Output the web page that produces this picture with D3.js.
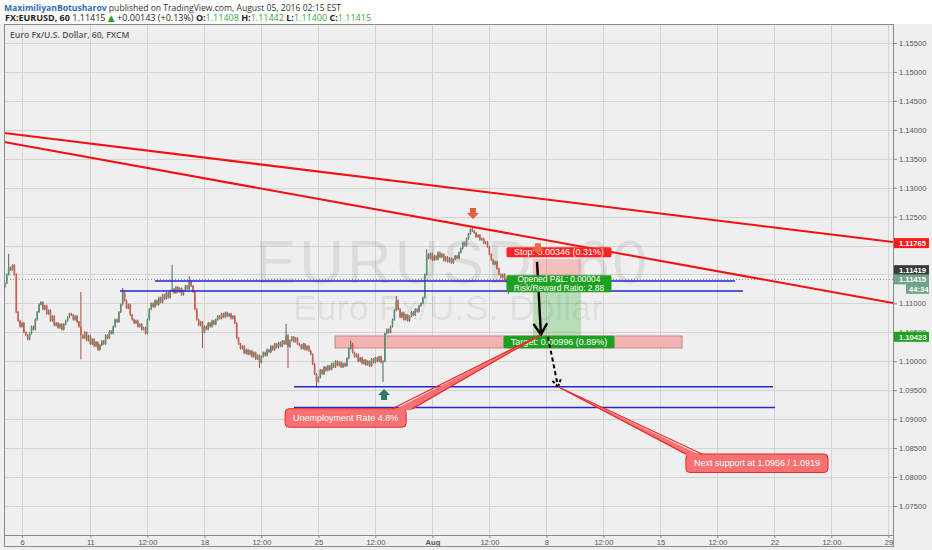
<!DOCTYPE html>
<html><head><meta charset="utf-8">
<script src="https://cdn.jsdelivr.net/npm/d3@7"></script>
<style>
html,body{margin:0;padding:0;background:#fff;}
svg{display:block;}
</style></head><body>
<svg id="c" width="932" height="550"></svg>
<script>
// ---------- data ----------
const priceTicks = [1.075,1.08,1.085,1.09,1.095,1.10,1.105,1.11,1.115,1.12,1.125,1.13,1.135,1.14,1.145,1.15,1.155];
const timeTickPos = [0,3,5.5,8,10.5,13,15.5,18,20.5,23,25.5,28,30.5,33,35.5,38]; // trading days from Jul 6
const timeTickLabels = ["6","11","12:00","18","12:00","25","12:00","Aug","12:00","8","12:00","15","12:00","22","12:00","29"];
const headerOHLC = [["O:","1.11408"],["H:","1.11442"],["L:","1.11400"],["C:","1.11415"]];
const firstOpen = 1.1128;
const candleStart = -0.75, candleStep = 1/12; // 2-hour bars
const closes = [
1.1135,1.1150,1.1162,1.1158,1.1166,1.1150,1.1085,1.1070,1.1060,1.1066,1.1050,1.1045,
1.1038,1.1048,1.1060,1.1055,1.1072,1.1085,1.1098,1.1102,1.1090,1.1096,1.1082,1.1088,
1.1070,1.1078,1.1062,1.1066,1.1058,1.1064,1.1055,1.1064,1.1070,1.1076,1.1082,1.1080,
1.1072,1.1078,1.1068,1.1060,1.1045,1.1040,1.1050,1.1036,1.1044,1.1030,1.1038,1.1026,
1.1033,1.1020,1.1028,1.1035,1.1030,1.1045,1.1040,1.1052,1.1048,1.1060,1.1072,1.1068,
1.1085,1.1098,1.1120,1.1105,1.1092,1.1098,1.1080,1.1072,1.1066,1.1070,1.1060,1.1064,
1.1055,1.1058,1.1048,1.1072,1.1090,1.1100,1.1094,1.1105,1.1098,1.1110,1.1102,1.1115,
1.1108,1.1118,1.1110,1.1122,1.1125,1.1118,1.1128,1.1120,1.1126,1.1115,1.1122,1.1130,
1.1125,1.1138,1.1130,1.1120,1.1090,1.1072,1.1062,1.1068,1.1050,1.1060,1.1055,1.1066,
1.1060,1.1070,1.1064,1.1072,1.1078,1.1074,1.1082,1.1076,1.1084,1.1078,1.1082,1.1074,
1.1078,1.1066,1.1040,1.1030,1.1022,1.1026,1.1014,1.1020,1.1012,1.1018,1.1008,1.1015,
1.1004,1.1010,1.0998,1.1008,1.1015,1.1010,1.1020,1.1016,1.1026,1.1020,1.1030,1.1024,
1.1032,1.1026,1.1035,1.1030,1.1045,1.1025,1.1036,1.1042,1.1034,1.1040,1.1030,1.1028,
1.1022,1.1030,1.1020,1.1026,1.1018,1.1012,1.0995,1.0978,1.0965,1.0972,1.0985,1.0978,
1.0990,1.0984,1.0992,1.0986,1.0996,1.0990,1.1000,1.0993,1.0998,1.0990,1.0996,1.0992,
1.1005,1.1022,1.1030,1.1015,1.1008,1.1012,1.1000,1.1006,1.0996,1.1002,1.0994,1.1000,
1.0992,1.1004,1.0998,1.1006,1.1000,1.1008,1.0998,1.1000,1.1048,1.1055,1.1050,1.1060,
1.1072,1.1088,1.1105,1.1090,1.1076,1.1084,1.1072,1.1080,1.1070,1.1078,1.1085,1.1080,
1.1090,1.1086,1.1096,1.1100,1.1110,1.1150,1.1185,1.1178,1.1186,1.1175,1.1182,1.1176,
1.1188,1.1180,1.1185,1.1174,1.1180,1.1172,1.1178,1.1170,1.1176,1.1182,1.1178,1.1188,
1.1195,1.1205,1.1200,1.1212,1.1220,1.1228,1.1225,1.1222,1.1215,1.1218,1.1210,1.1212,
1.1204,1.1206,1.1198,1.1185,1.1175,1.1168,1.1172,1.1160,1.1150,1.1145,1.1150,1.1142,
1.1138,1.1132,1.1138,1.11415
];
const wickHighs = [[2,1.1184],[40,1.1118],[62,1.1125],[88,1.1165],[97,1.1145],[148,1.1063],[182,1.1034],[206,1.1111],[222,1.1192],[246,1.1232]];
const wickLows = [[40,1.1005],[104,1.1025],[134,1.0990],[149,1.0990],[164,1.0956],[199,1.0966],[265,1.1118]];
const trendA = [[-0.789,1.13945],[38.202,1.12061]];
const trendB = [[-0.789,1.13789],[38.202,1.11007]];
const blueLevels = [[5.83,31.27,1.11387],[4.30,31.62,1.11215],[11.93,32.94,1.0956],[11.93,33.03,1.0920]];
const targetZone = [13.73,28.95,1.10437,1.10230];
const position = {d0:22.41,d1:24.52,entry:1.11419,stop:1.11765,target:1.10423};
const positionTexts = ["Stop: 0.00346 (0.31%)","Opened P&L: 0.00004","Risk/Reward Ratio: 2.88","Target: 0.00996 (0.89%)"];
const solidArrow = [[22.59,1.11717],[22.76,1.1046]];
const dashedArrow = [[23.07,1.1042],[23.51,1.0956]];
const downMarkers = [[19.78,1.1246],[22.63,1.1185]];
const upMarkers = [[15.88,1.0952]];
const callouts = [
  {text:"Unemployment Rate 4.8%", box:[11.54,1.0918], tip:[22.76,1.1046], base:[107,127]},
  {text:"Next support at 1.0956 / 1.0919", box:[29.12,1.08398], tip:[23.51,1.0956], base:[0,16]}
];
const lastPrice = 1.11415;
const axisLabels = [
  {price:1.11765, text:"1.11765", bg:"#ff1a1a", nudge:-16},
  {price:1.11419, text:"1.11419", bg:"#3a3a3a", nudge:-9},
  {price:1.11415, text:"1.11415", bg:"#6fa689", nudge:0},
  {price:1.10423, text:"1.10423", bg:"#1ea21e", nudge:0}
];
const countdown = "44:34";

// ---------- layout ----------
const W=932,H=550;
const plot={l:4,r:893,t:24,b:535};
const x=d3.scaleLinear().domain([-0.789,38.202]).range([plot.l,plot.r]);
const y=d3.scaleLinear().domain([1.06998,1.15828]).range([plot.b,plot.t]);
const SANS='"Liberation Sans",Arial,sans-serif';
const OPEN='"Open Sans","DejaVu Sans",sans-serif';
const svg=d3.select("#c");
svg.append("rect").attr("width",W).attr("height",H).attr("fill","#fff");
svg.append("rect").attr("x",0).attr("y",plot.t).attr("width",W).attr("height",H-plot.t).attr("fill","#efefef");

svg.append("defs").append("clipPath").attr("id","pc").append("rect")
  .attr("x",plot.l).attr("y",plot.t).attr("width",plot.r-plot.l).attr("height",plot.b-plot.t);

// header
const h1=svg.append("text").attr("x",4).attr("y",10.5).attr("font-family",OPEN).attr("font-size",8.6);
h1.append("tspan").attr("fill","#2f6cb3").attr("font-weight","bold").text("MaximiliyanBotusharov");
h1.append("tspan").attr("fill","#333").text(" published on TradingView.com, August 05, 2016 02:15 EST");
const h2=svg.append("text").attr("x",5).attr("y",20.5).attr("font-family",OPEN).attr("font-size",9).attr("fill","#222");
h2.append("tspan").attr("font-weight","bold").text("FX:EURUSD, 60");
h2.append("tspan").text(" 1.11415 ");
h2.append("tspan").attr("fill","#2ca02c").text("▲");
h2.append("tspan").text(" +0.00143 (+0.13%) ");
headerOHLC.forEach(([k,v],i)=>{
  h2.append("tspan").attr("font-weight","bold").text((i?" ":"")+k);
  h2.append("tspan").attr("fill","#3fa63f").text(v);
});

// grid
const grid=svg.append("g").attr("stroke","#d3d3d3").attr("stroke-width",1);
grid.selectAll("line.h").data(priceTicks).join("line").attr("class","h")
  .attr("x1",plot.l).attr("x2",plot.r).attr("y1",d=>Math.round(y(d))+0.5).attr("y2",d=>Math.round(y(d))+0.5);
grid.selectAll("line.v").data(timeTickPos).join("line").attr("class","v")
  .attr("y1",plot.t).attr("y2",plot.b).attr("x1",d=>Math.round(x(d))+0.5).attr("x2",d=>Math.round(x(d))+0.5);

const P=svg.append("g").attr("clip-path","url(#pc)");

// legend
P.append("text").attr("x",10).attr("y",37.5).attr("font-family",OPEN).attr("font-size",8.6)
  .attr("font-weight","600").attr("fill","#555").text("Euro Fx/U.S. Dollar, 60, FXCM");

// watermark
P.append("text").attr("x",255).attr("y",283).attr("font-family",SANS).attr("font-size",62)
  .attr("fill","rgba(0,0,0,0.08)").attr("textLength",392).attr("lengthAdjust","spacing").text("EURUSD, 60");
P.append("text").attr("x",293).attr("y",320).attr("font-family",SANS).attr("font-size",35)
  .attr("fill","rgba(0,0,0,0.08)").attr("textLength",310).attr("lengthAdjust","spacing").text("Euro Fx/U.S. Dollar");

// target zone rect
P.append("rect").attr("x",x(targetZone[0])).attr("width",x(targetZone[1])-x(targetZone[0]))
  .attr("y",y(targetZone[2])).attr("height",y(targetZone[3])-y(targetZone[2]))
  .attr("fill","#f3b3b3").attr("stroke","#c98585").attr("stroke-width",1);

// last price dotted line
P.append("line").attr("x1",plot.l).attr("x2",plot.r).attr("y1",y(lastPrice)).attr("y2",y(lastPrice))
  .attr("stroke","#888").attr("stroke-dasharray","1,2").attr("stroke-width",1);

// candles
const candles=closes.map((c,i)=>{
  const o=i===0?firstOpen:closes[i-1];
  return {d:candleStart+i*candleStep,o,c,h:Math.max(o,c),l:Math.min(o,c)};
});
wickHighs.forEach(([i,v])=>candles[i].h=Math.max(candles[i].h,v));
wickLows.forEach(([i,v])=>candles[i].l=Math.min(candles[i].l,v));
const cg=P.append("g");
cg.selectAll("line").data(candles).join("line")
  .attr("x1",d=>x(d.d)).attr("x2",d=>x(d.d)).attr("y1",d=>y(d.h)-1).attr("y2",d=>y(d.l)+1)
  .attr("stroke",d=>d.c>=d.o?"#355e48":"#9c3f35").attr("stroke-width",0.9);
cg.selectAll("rect").data(candles).join("rect")
  .attr("x",d=>x(d.d)-0.8).attr("width",1.6)
  .attr("y",d=>y(Math.max(d.o,d.c))).attr("height",d=>Math.max(0.8,Math.abs(y(d.o)-y(d.c))))
  .attr("fill",d=>d.c>=d.o?"#5a9074":"#d4584b");

// blue levels
P.selectAll("line.blue").data(blueLevels).join("line").attr("class","blue")
  .attr("x1",d=>x(d[0])).attr("x2",d=>x(d[1])).attr("y1",d=>y(d[2])).attr("y2",d=>y(d[2]))
  .attr("stroke","#2424d6").attr("stroke-width",1.4);

// trend lines
P.selectAll("line.trend").data([trendA,trendB]).join("line").attr("class","trend")
  .attr("x1",d=>x(d[0][0])).attr("y1",d=>y(d[0][1])).attr("x2",d=>x(d[1][0])).attr("y2",d=>y(d[1][1]))
  .attr("stroke","#f41010").attr("stroke-width",2);

// position tool zones
const px0=x(position.d0), px1=x(position.d1), pcx=(px0+px1)/2+2;
P.append("rect").attr("x",px0).attr("width",px1-px0).attr("y",y(position.stop)).attr("height",y(position.entry)-y(position.stop))
  .attr("fill","rgba(255,40,40,0.24)");
P.append("rect").attr("x",px0).attr("width",px1-px0).attr("y",y(position.entry)).attr("height",y(position.target)-y(position.entry))
  .attr("fill","rgba(30,170,30,0.26)");

// solid black arrow
function arrowHead(g,tip,from,len,attrs){
  const a=Math.atan2(tip[1]-from[1],tip[0]-from[0]);
  [-0.55,0.55].forEach(s=>{
    const l=g.append("line").attr("x1",tip[0]).attr("y1",tip[1])
      .attr("x2",tip[0]-len*Math.cos(a+s)).attr("y2",tip[1]-len*Math.sin(a+s));
    Object.entries(attrs).forEach(([k,v])=>l.attr(k,v));
  });
}
const sa0=[x(solidArrow[0][0]),y(solidArrow[0][1])], sa1=[x(solidArrow[1][0]),y(solidArrow[1][1])];
P.append("line").attr("x1",sa0[0]).attr("y1",sa0[1]).attr("x2",sa1[0]).attr("y2",sa1[1]).attr("stroke","#000").attr("stroke-width",2.4);
arrowHead(P,sa1,sa0,12,{stroke:"#000","stroke-width":2.4,"stroke-linecap":"round"});

// position labels
function box(g,cx,top,w,h,fill){g.append("rect").attr("x",cx-w/2).attr("y",top).attr("width",w).attr("height",h).attr("rx",1.5).attr("fill",fill);}
box(P,pcx,y(position.stop)-12,105,10,"#ff2323");
P.append("text").attr("x",pcx).attr("y",y(position.stop)-4).attr("text-anchor","middle").attr("font-family",SANS).attr("font-size",9).attr("fill","#fff").text(positionTexts[0]);
box(P,pcx,y(position.entry)-4,105,17,"#20a020");
P.append("text").attr("x",pcx).attr("y",y(position.entry)+3).attr("text-anchor","middle").attr("font-family",SANS).attr("font-size",8.4).attr("fill","#fff").text(positionTexts[1]);
P.append("text").attr("x",pcx).attr("y",y(position.entry)+11.6).attr("text-anchor","middle").attr("font-family",SANS).attr("font-size",8.4).attr("fill","#fff").text(positionTexts[2]);
box(P,pcx,y(position.target)-1,111,12.5,"#20a020");
P.append("text").attr("x",pcx).attr("y",y(position.target)+8.3).attr("text-anchor","middle").attr("font-family",SANS).attr("font-size",9).attr("fill","#fff").text(positionTexts[3]);

// dashed arrow
const da0=[x(dashedArrow[0][0]),y(dashedArrow[0][1])], da1=[x(dashedArrow[1][0]),y(dashedArrow[1][1])];
P.append("line").attr("x1",da0[0]).attr("y1",da0[1]).attr("x2",da1[0]).attr("y2",da1[1]).attr("stroke","#000").attr("stroke-width",2).attr("stroke-dasharray","4,3");
arrowHead(P,da1,da0,9,{stroke:"#000","stroke-width":2,"stroke-dasharray":"3,2"});

// callouts
callouts.forEach(c=>{
  const bx=x(c.box[0]), by=y(c.box[1]);
  const t=P.append("text").attr("font-family",SANS).attr("font-size",9).attr("fill","#fff").text(c.text);
  const tw=t.node().getComputedTextLength();
  const bw=tw+16, bh=18.5;
  const tx=x(c.tip[0]), ty=y(c.tip[1]);
  const b0=[bx+c.base[0],by], b1=[bx+c.base[1],by];
  P.insert("rect","text:last-child").attr("x",bx).attr("y",by).attr("width",bw).attr("height",bh).attr("rx",4)
    .attr("fill","#f67272").attr("stroke","#e62a2a").attr("stroke-width",1);
  const wg=P.append("g");
  wg.append("path").attr("d",`M${b0[0]+1},${by+1.5}L${tx},${ty}L${b1[0]-1},${by+1.5}Z`).attr("fill","#f67272");
  wg.append("path").attr("d",`M${b0[0]},${by}L${tx},${ty}L${b1[0]},${by}`).attr("fill","none").attr("stroke","#e62a2a").attr("stroke-width",1.2);
  t.raise().attr("x",bx+8).attr("y",by+12.5);
});

// markers
function downArrow(cx,tipY,col){
  P.append("path").attr("d",`M${cx-3},${tipY-11}L${cx+3},${tipY-11}L${cx+3},${tipY-6}L${cx+6},${tipY-6}L${cx},${tipY}L${cx-6},${tipY-6}L${cx-3},${tipY-6}Z`).attr("fill",col);
}
function upArrow(cx,tipY,col){
  P.append("path").attr("d",`M${cx-3},${tipY+11}L${cx+3},${tipY+11}L${cx+3},${tipY+6}L${cx+6},${tipY+6}L${cx},${tipY}L${cx-6},${tipY+6}L${cx-3},${tipY+6}Z`).attr("fill",col);
}
downMarkers.forEach(([d,p],i)=>downArrow(x(d),y(p),i===0?"#e4603e":"#ef6a45"));
upMarkers.forEach(([d,p])=>upArrow(x(d),y(p),"#2d7d5c"));

// axes
const yAxis=d3.axisRight(y).tickValues(priceTicks).tickFormat(d3.format(".5f")).tickSize(4).tickPadding(2);
const ya=svg.append("g").attr("transform",`translate(${plot.r},0)`).call(yAxis);
ya.select(".domain").remove();
ya.selectAll("line").attr("stroke","#888");
ya.selectAll("text").attr("font-family",SANS).attr("font-size",7.6).attr("fill","#555");
const xAxis=d3.axisBottom(x).tickValues(timeTickPos).tickFormat((d,i)=>timeTickLabels[i]).tickSize(3).tickPadding(2);
const xa=svg.append("g").attr("transform",`translate(0,${plot.b})`).call(xAxis);
xa.select(".domain").remove();
xa.selectAll("line").attr("stroke","#888");
xa.selectAll("text").attr("font-family",SANS).attr("font-size",7.6).attr("fill","#555")
  .attr("font-weight",(d,i)=>timeTickLabels[i]==="Aug"?"bold":"normal");

// frame
svg.append("rect").attr("x",plot.l+0.5).attr("y",plot.t+0.5).attr("width",plot.r-plot.l).attr("height",plot.b-plot.t)
  .attr("fill","none").attr("stroke","#8a8a8a");
svg.append("rect").attr("x",plot.l+0.5).attr("y",plot.t+0.5).attr("width",plot.r-plot.l).attr("height",546-plot.t)
  .attr("fill","none").attr("stroke","#8a8a8a");

// right axis price labels
axisLabels.forEach(l=>{
  const cy=y(l.price)+l.nudge;
  svg.append("rect").attr("x",plot.r+1).attr("y",cy-5).attr("width",35).attr("height",10).attr("fill",l.bg);
  svg.append("text").attr("x",plot.r+6).attr("y",cy+3).attr("font-family",SANS).attr("font-size",7.6).attr("font-weight","bold").attr("fill","#fff").text(l.text);
});
{
  const cy=y(lastPrice)+9.5;
  svg.append("rect").attr("x",plot.r+13).attr("y",cy-5).attr("width",23).attr("height",10).attr("fill","#6fa689");
  svg.append("text").attr("x",plot.r+16).attr("y",cy+3).attr("font-family",SANS).attr("font-size",7.6).attr("font-weight","bold").attr("fill","#fff").text(countdown);
}
</script>
</body></html>
